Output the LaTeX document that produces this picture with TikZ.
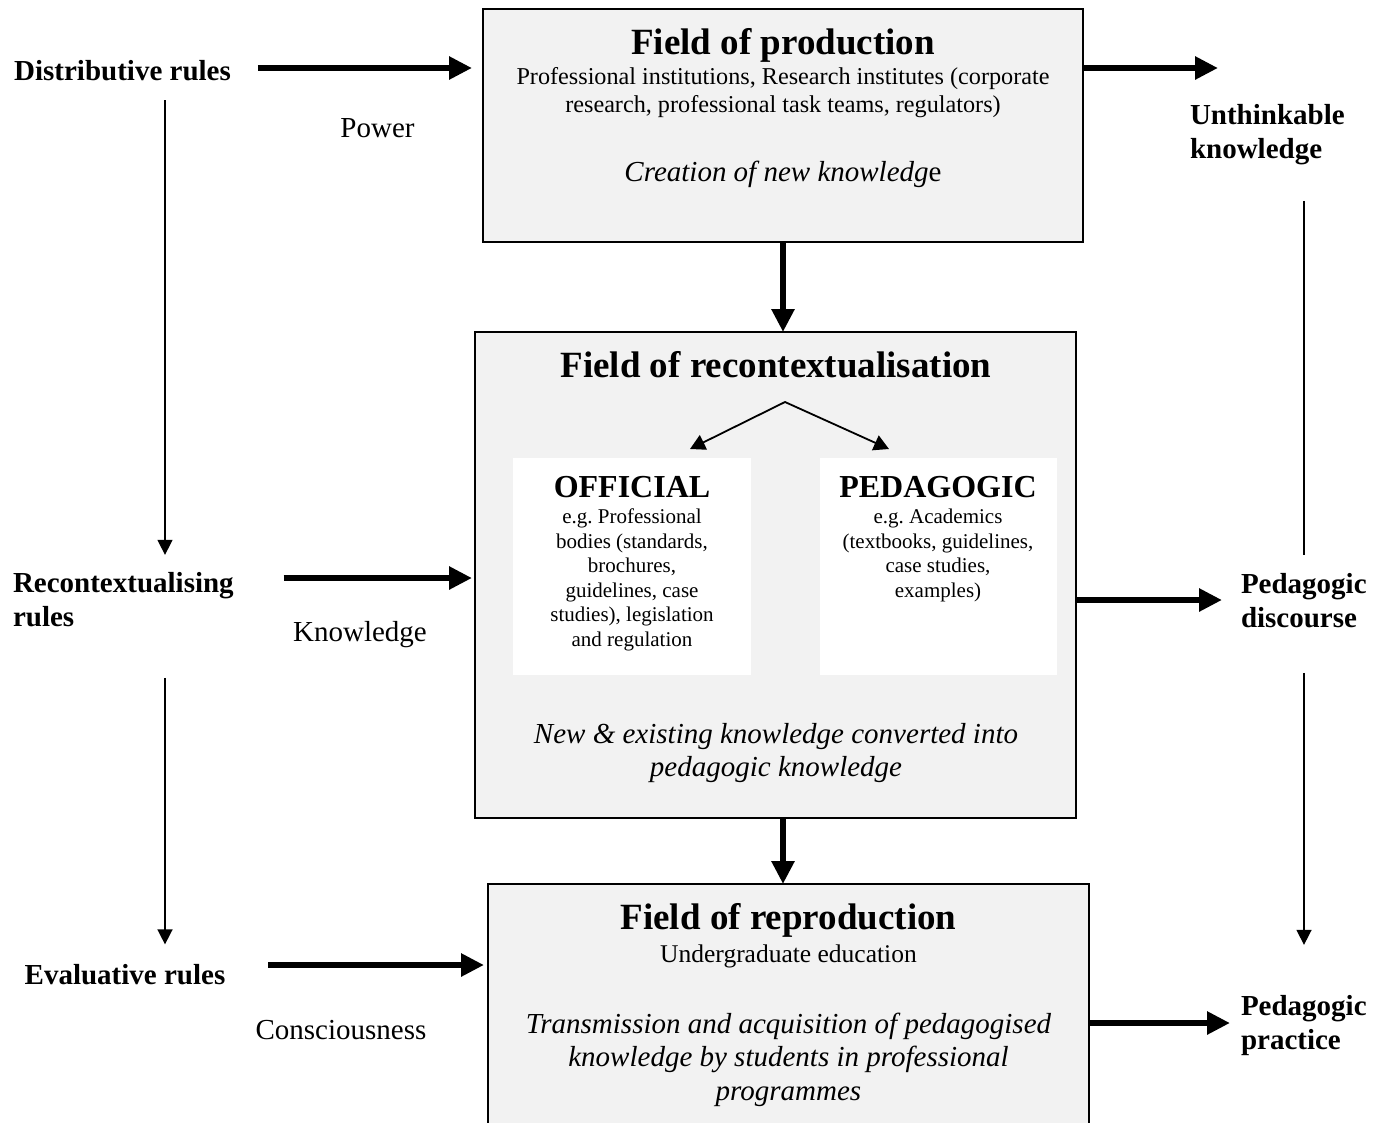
\documentclass[tikz,border=0pt]{standalone}
\usepackage{fontspec}
\setmainfont{Liberation Serif}
\usetikzlibrary{arrows.meta,calc}
\definecolor{boxgray}{HTML}{F2F2F2}
\newcommand{\ctab}[1]{\begin{tabular}[t]{@{}c@{}}#1\end{tabular}}
\newcommand{\ltab}[1]{\begin{tabular}[t]{@{}l@{}}#1\end{tabular}}
\frenchspacing
\begin{document}
\begin{tikzpicture}[x=1pt,y=-1pt,
  every node/.style={inner sep=0pt,outer sep=0pt},
  fieldbox/.style={draw=black,line width=1.5pt,fill=boxgray},
  subbox/.style={fill=white},
  bigarr/.style={line width=6pt,-{Triangle[length=23pt,width=22pt]}},
  smallarr/.style={line width=1.5pt,-{Triangle[length=15pt,width=15pt]}},
  twoarr/.style={line width=1.8pt,{Triangle[length=15pt,width=16pt]}-{Triangle[length=15pt,width=16pt]}},
  smallline/.style={line width=1.5pt},
  ttl/.style={anchor=base,font=\bfseries\fontsize{37}{42}\selectfont},
  subttl/.style={anchor=base,font=\bfseries\fontsize{32}{36}\selectfont},
  body/.style={anchor=base,font=\fontsize{24.2}{27.5}\selectfont},
  small/.style={anchor=base,font=\fontsize{21}{24.6}\selectfont},
  ital/.style={anchor=base,font=\itshape\fontsize{29}{33.5}\selectfont},
  lbl/.style={anchor=base,font=\bfseries\fontsize{29}{34.5}\selectfont},
  lblr/.style={anchor=base,font=\fontsize{29}{34}\selectfont}]
\useasboundingbox (0,0) rectangle (1384,1122);
\clip (0,0) rectangle (1384,1122);
\fill[white] (0,0) rectangle (1384,1122);

% field boxes
\node[fieldbox,minimum width=600pt,minimum height=233pt] (prod) at (783,125.5) {};
\node[fieldbox,minimum width=601pt,minimum height=486pt] (recon) at (775.5,575) {};
\node[fieldbox,minimum width=601pt,minimum height=252pt] (repro) at (788.5,1010) {};
\node[subbox,minimum width=238pt,minimum height=217pt] (offbox) at (632,566.5) {};
\node[subbox,minimum width=237pt,minimum height=217pt] (pedbox) at (938.5,566.5) {};

% texts in boxes
\node[ttl] (prodtitle) at (783,54) {Field of production};
\node[body] (prodbody) at (783,84.5) {\ctab{Professional institutions, Research institutes (corporate\\research, professional task teams, regulators)}};
\node[ital] (prodital) at (783,181) {Creation of new knowledg\textup{e}};

\node[ttl] (recontitle) at (776,377) {Field of recontextualisation};
\node[subttl] (offtitle) at (632,497.5) {OFFICIAL};
\node[small] (offbody) at (632,523.5) {\ctab{e.g. Professional\\bodies (standards,\\brochures,\\guidelines, case\\studies), legislation\\and regulation}};
\node[subttl] (pedtitle) at (938,497.5) {PEDAGOGIC};
\node[small] (pedbody) at (938,523.5) {\ctab{e.g. Academics\\(textbooks, guidelines,\\case studies,\\examples)}};
\node[ital] (reconital) at (776,743) {\ctab{New \& existing knowledge converted into\\pedagogic knowledge}};

\node[ttl] (reprotitle) at (788.5,929) {Field of reproduction};
\node[body,font=\fontsize{25.5}{28}\selectfont] (reprobody) at (788.5,962) {Undergraduate education};
\node[ital] (reproital) at (788.5,1033) {\ctab{Transmission and acquisition of pedagogised\\knowledge by students in professional\\programmes}};

% side labels
\node[lbl] (dist) at (122.5,80) {Distributive rules};
\node[lblr] (power) at (377.5,137) {Power};
\node[lbl,anchor=base west] (recrules) at (13,592) {\ltab{Recontextualising\\rules}};
\node[lblr] (know) at (360,641) {Knowledge};
\node[lbl] (evalr) at (125,984) {Evaluative rules};
\node[lblr] (consc) at (341,1039) {Consciousness};
\node[lbl,anchor=base west] (unthink) at (1190,124) {\ltab{Unthinkable\\knowledge}};
\node[lbl,anchor=base west] (pdisc) at (1241,593) {\ltab{Pedagogic\\discourse}};
\node[lbl,anchor=base west] (pprac) at (1241,1015) {\ltab{Pedagogic\\practice}};

% helper coordinates tied to nodes
\coordinate (d1) at ([xshift=27pt,yshift=12pt]dist.base east);
\coordinate (u1) at ([xshift=28pt]unthink.base west);
\coordinate (p1) at ([xshift=-19pt,yshift=-7pt]pdisc.base west);
\coordinate (p2) at ([xshift=-11pt,yshift=-8pt]pprac.base west);
\coordinate (r1) at ([xshift=50pt,yshift=14pt]recrules.base east);
\coordinate (e1) at ([xshift=43pt,yshift=19pt]evalr.base east);
\coordinate (v1) at ([xshift=42.5pt,yshift=-20pt]dist.base);
\coordinate (w1) at ([xshift=114pt]unthink.base west);
\coordinate (apex) at ([xshift=9pt,yshift=-25pt]recontitle.base);
\coordinate (t1) at ([xshift=58pt,yshift=9pt]offbox.north);
\coordinate (t2) at ([xshift=-49.5pt,yshift=9pt]pedbox.north);

% thick arrows
\draw[bigarr,shorten >=11pt] (d1) -- (d1 -| prod.west);
\draw[bigarr] (d1 -| prod.east) -- (d1 -| u1);
\draw[bigarr] (prod.south) -- (prod.south |- recon.north);
\draw[bigarr] (prod.south |- recon.south) -- (prod.south |- repro.north);
\draw[bigarr] (p1 -| recon.east) -- (p1);
\draw[bigarr] (p2 -| repro.east) -- (p2);
\draw[bigarr,shorten >=3pt] (r1) -- (r1 -| recon.west);
\draw[bigarr,shorten >=4pt] (e1) -- (e1 -| repro.west);

% thin arrows
\draw[smallarr,shorten >=13pt] (v1) -- (v1 |- recrules.north);
\draw[smallarr,shorten <=41pt,shorten >=19.5pt] (v1 |- recrules.south) -- (v1 |- evalr.north);
\draw[smallline,shorten <=32pt,shorten >=14pt] (w1 |- unthink.south) -- (w1 |- pdisc.north);
\draw[smallarr,shorten <=35pt,shorten >=46pt] (w1 |- pdisc.south) -- (w1 |- pprac.north);
\draw[twoarr] (t1) -- (apex) -- (t2);
\end{tikzpicture}
\end{document}
